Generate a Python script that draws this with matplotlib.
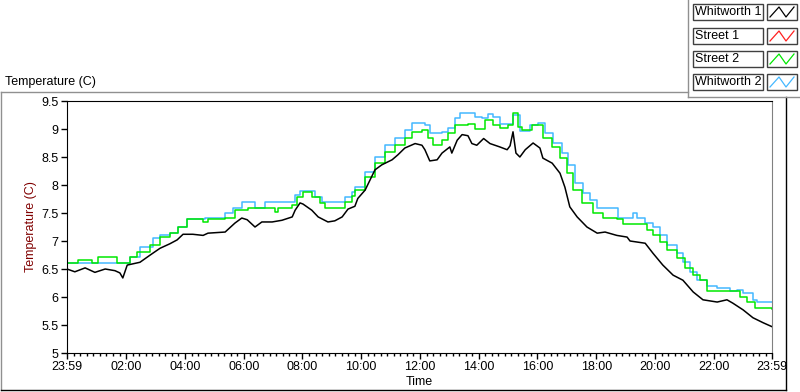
import matplotlib
matplotlib.use("Agg")
import matplotlib.pyplot as plt
from matplotlib.lines import Line2D
from matplotlib.patches import Rectangle
from matplotlib.ticker import FixedLocator, FuncFormatter

plt.rcParams['font.family'] = ['Liberation Sans', 'DejaVu Sans']

# minutes after 23:59 (start of the record)
w1_t = [0, 16, 37, 57, 78, 98, 108, 114, 123, 149, 170, 190, 210, 225, 237, 257, 278, 288,
        323, 343, 357, 368, 384, 398, 419, 439, 460, 466, 476, 482, 500, 513, 533, 547, 562,
        574, 588, 594, 609, 629, 643, 664, 676, 690, 711, 725, 731, 741, 756, 766, 782, 786,
        797, 807, 819, 827, 837, 851, 864, 884, 899, 905, 911, 917, 925, 936, 952, 966, 972,
        991, 1007, 1017, 1027, 1042, 1062, 1083, 1099, 1123, 1144, 1150, 1181, 1197, 1217,
        1238, 1258, 1279, 1299, 1328, 1348, 1360, 1381, 1401, 1422, 1440]
w1_v = [6.50, 6.45, 6.52, 6.44, 6.50, 6.47, 6.43, 6.34, 6.57, 6.62, 6.75, 6.87, 6.95, 7.02, 7.12,
        7.12, 7.10, 7.14, 7.16, 7.32, 7.41, 7.38, 7.25, 7.34, 7.34, 7.37, 7.43, 7.55, 7.68, 7.66,
        7.55, 7.43, 7.34, 7.36, 7.43, 7.57, 7.62, 7.76, 7.91, 8.27, 8.36, 8.45, 8.54, 8.66, 8.74,
        8.71, 8.63, 8.43, 8.45, 8.57, 8.68, 8.57, 8.80, 8.90, 8.88, 8.74, 8.71, 8.83, 8.74, 8.68,
        8.63, 8.70, 8.95, 8.57, 8.50, 8.63, 8.75, 8.66, 8.48, 8.39, 8.21, 7.96, 7.61, 7.43, 7.25,
        7.14, 7.16, 7.10, 7.07, 7.00, 6.96, 6.78, 6.57, 6.39, 6.30, 6.09, 5.95, 5.91, 5.95, 5.89,
        5.77, 5.63, 5.54, 5.47]

s1_t = []
s1_v = []

s2_t = [0, 22, 51, 63, 98, 102, 123, 129, 143, 170, 190, 210, 227, 245, 272, 278, 288, 323, 343,
        370, 411, 425, 431, 460, 470, 482, 500, 517, 527, 554, 568, 582, 588, 609, 629, 650, 670,
        690, 705, 725, 737, 748, 766, 778, 793, 819, 833, 854, 870, 884, 901, 911, 921, 929, 950,
        962, 972, 991, 1007, 1021, 1034, 1052, 1074, 1095, 1123, 1136, 1185, 1197, 1211, 1226,
        1246, 1263, 1279, 1293, 1307, 1375, 1389, 1405, 1440]
s2_v = [6.60, 6.66, 6.60, 6.71, 6.71, 6.60, 6.60, 6.71, 6.80, 6.93, 7.07, 7.14, 7.25, 7.39, 7.39,
        7.34, 7.39, 7.41, 7.55, 7.59, 7.59, 7.52, 7.59, 7.64, 7.79, 7.87, 7.79, 7.68, 7.59, 7.59,
        7.70, 7.80, 7.91, 8.14, 8.39, 8.59, 8.71, 8.84, 8.95, 8.98, 8.84, 8.71, 8.80, 8.93, 9.07,
        9.09, 9.00, 9.16, 9.07, 9.02, 9.07, 9.29, 9.04, 8.98, 9.07, 9.07, 8.84, 8.68, 8.48, 8.21,
        7.91, 7.68, 7.50, 7.41, 7.39, 7.30, 7.20, 7.10, 6.98, 6.84, 6.70, 6.52, 6.39, 6.30, 6.11,
        6.00, 5.91, 5.80, 5.79]

w2_t = [0, 129, 149, 176, 190, 210, 227, 245, 272, 282, 323, 339, 357, 378, 384, 404, 460, 466,
        476, 492, 507, 521, 562, 568, 582, 588, 609, 629, 650, 670, 690, 705, 731, 741, 766, 778,
        793, 803, 819, 833, 848, 860, 870, 884, 905, 911, 925, 946, 962, 976, 993, 1011, 1023,
        1038, 1054, 1068, 1083, 1105, 1125, 1144, 1156, 1164, 1181, 1197, 1211, 1226, 1246, 1258,
        1273, 1287, 1307, 1328, 1354, 1369, 1381, 1401, 1409, 1440]
w2_v = [6.60, 6.71, 6.89, 7.05, 7.10, 7.14, 7.25, 7.39, 7.39, 7.41, 7.50, 7.59, 7.70, 7.70, 7.59,
        7.70, 7.70, 7.82, 7.89, 7.89, 7.79, 7.70, 7.70, 7.79, 7.87, 7.96, 8.23, 8.50, 8.71, 8.84,
        8.98, 9.11, 9.07, 8.93, 8.95, 9.02, 9.20, 9.29, 9.29, 9.21, 9.20, 9.27, 9.21, 9.09, 9.09,
        9.25, 8.96, 9.07, 9.11, 8.93, 8.75, 8.57, 8.36, 8.04, 7.86, 7.73, 7.59, 7.59, 7.41, 7.41,
        7.50, 7.41, 7.32, 7.25, 7.10, 6.93, 6.78, 6.63, 6.45, 6.30, 6.20, 6.16, 6.11, 6.13, 6.07,
        5.95, 5.91, 5.91]

series_names = ['Whitworth 1', 'Street 1', 'Street 2', 'Whitworth 2']
series_colors = ['black', '#ff2020', '#00e800', '#44b8ff']

x_ticks = [0, 121, 241, 361, 481, 601, 721, 841, 961, 1081, 1201, 1321, 1440]
x_labels = ['23:59', '02:00', '04:00', '06:00', '08:00', '10:00', '12:00', '14:00',
            '16:00', '18:00', '20:00', '22:00', '23:59']
y_ticks = [5, 5.5, 6, 6.5, 7, 7.5, 8, 8.5, 9, 9.5]

W, H = 800, 392
fig = plt.figure(figsize=(W / 100, H / 100), dpi=100)
fig.patch.set_facecolor('white')


def fx(px):
    return px / W


def fy(py):
    return 1 - py / H


ax = fig.add_axes([fx(67), fy(353), fx(772) - fx(67), fy(101) - fy(353)])
ax.plot(w1_t, w1_v, color=series_colors[0], lw=1.1, zorder=3)
ax.plot(s1_t, s1_v, color=series_colors[1], lw=1.1, zorder=2)
ax.step(w2_t, w2_v, where='post', color=series_colors[3], lw=1.1, zorder=2)
ax.step(s2_t, s2_v, where='post', color=series_colors[2], lw=1.1, zorder=2.5)

ax.set_xlim(0, 1440)
ax.set_ylim(5, 9.5)
ax.set_xticks(x_ticks)
ax.set_xticklabels(x_labels)
minor = []
for a, b in zip(x_ticks[:-1], x_ticks[1:]):
    minor += [a + (b - a) * k / 9 for k in range(1, 9)]
ax.xaxis.set_minor_locator(FixedLocator(minor))
ax.set_yticks(y_ticks)
ax.yaxis.set_major_formatter(FuncFormatter(lambda v, p: ('%g' % v)))
ax.tick_params(axis='both', which='major', length=4, width=1, labelsize=9, pad=2,
               colors='black')
ax.tick_params(axis='x', which='minor', length=2.5, width=1)
for s in ['left', 'bottom', 'top']:
    ax.spines[s].set_color('black')
ax.spines['right'].set_color('#808080')
ax.set_xlabel('Time', fontsize=9, labelpad=2)
ax.set_ylabel('Temperature (C)', fontsize=9, color='#800000', labelpad=3)

fig.text(fx(5), fy(82), 'Temperature (C)', fontsize=9, va='center', ha='left')

# frame lines
def fline(x0, y0, x1, y1, c):
    fig.add_artist(Line2D([fx(x0), fx(x1)], [fy(y0), fy(y1)], color=c, lw=1,
                          transform=fig.transFigure))

fline(1, 92, 688, 92, '#909090')
fline(1, 92, 1, 390, '#909090')
fline(1, 390, 786, 390, 'black')
fline(786, 97, 786, 390, 'black')
fline(688, 0, 688, 97, '#909090')
fline(688, 97, 800, 97, '#909090')

# legend panel
rows = [4, 28, 51, 74]
for name, col, ry in zip(series_names, series_colors, rows):
    fig.add_artist(Rectangle((fx(693), fy(ry + 16)), fx(763) - fx(693), fy(ry) - fy(ry + 16),
                             transform=fig.transFigure, facecolor='white',
                             edgecolor='#404040', lw=1))
    fig.text(fx(695), fy(ry + 8), name, fontsize=9, va='center', ha='left')
    fig.add_artist(Rectangle((fx(767), fy(ry + 16)), fx(797) - fx(767), fy(ry) - fy(ry + 16),
                             transform=fig.transFigure, facecolor='white',
                             edgecolor='#404040', lw=1))
    zx = [770, 779, 786, 794]
    zy = [ry + 13, ry + 3, ry + 13, ry + 3]
    fig.add_artist(Line2D([fx(v) for v in zx], [fy(v) for v in zy], color=col, lw=0.9,
                          transform=fig.transFigure))

fig.savefig('out.png', dpi=100)
